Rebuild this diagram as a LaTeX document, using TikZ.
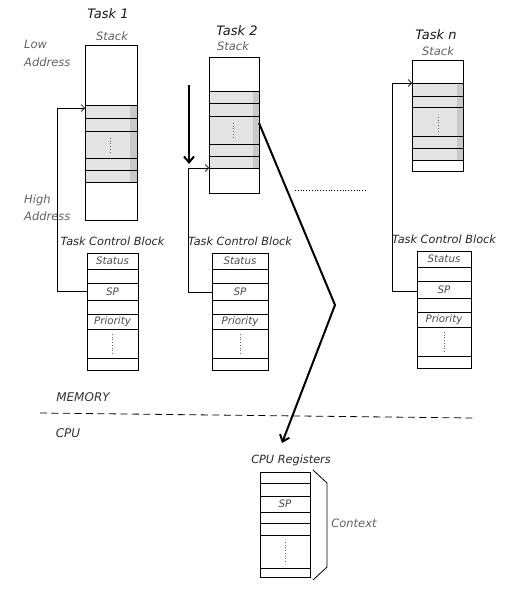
\documentclass[tikz,border=0pt]{standalone}
\usepackage{fontspec}
\setmainfont{DejaVu Sans}
\usetikzlibrary{arrows.meta}
\newcommand\TCBlock[4]{% name, left, top, width
  \node[box, anchor=north west, minimum width=#4pt, minimum height=117pt] (#1) at (#2,#3) {};
  \foreach \o in {16,30,47,61,76,105} \draw[rowline] (#2,#3+\o) -- ++(#4,0);
  \node[cell] at (#2+#4/2,#3+8) {Status};
  \node[cell] at (#2+#4/2,#3+38.5) {SP};
  \node[cell] at (#2+#4/2,#3+68.5) {Priority};
  \draw[vdots] (#2+#4/2,#3+81) -- (#2+#4/2,#3+101);
  \node[lbl] at (#2+#4/2,#3-12) {Task Control Block};
}
\begin{document}
\begin{tikzpicture}[x=1pt,y=-1pt,
 box/.style={draw, line width=1pt, inner sep=0pt, outer sep=0pt},
 rowline/.style={line width=1pt},
 lbl/.style={font=\itshape\fontsize{11.3}{13}\selectfont, text=black!85, inner sep=0pt},
 tlbl/.style={font=\itshape\fontsize{13}{15}\selectfont, text=black!90, inner sep=0pt},
 sub/.style={font=\itshape\fontsize{11.5}{13}\selectfont, text=black!62, inner sep=0pt},
 cell/.style={font=\itshape\fontsize{10.3}{12}\selectfont, text=black!70, inner sep=0pt},
 caps/.style={font=\itshape\fontsize{12}{14}\selectfont, text=black!80, inner sep=0pt},
 ptr/.style={line width=0.7pt, -{Straight Barb[length=3.5pt,width=7pt]}},
 bigarrow/.style={line width=2pt, -{Straight Barb[length=6pt,width=10pt]}},
 vdots/.style={dotted, line width=0.7pt, black!60}
]
\useasboundingbox (0,0) rectangle (512,589);

% ---------- Task 1 ----------
\fill[gray!22] (85,105) rectangle (137,182);
\fill[gray!42] (130,105) rectangle (137,182);
\node[box, anchor=north west, minimum width=52pt, minimum height=175pt] (s1) at (85,45) {};
\foreach \y in {105,118,131,158,170,182} \draw[rowline] (85,\y) -- (137,\y);
\draw[vdots] (110,138) -- (110,154);
\node[tlbl] (t1) at (108,14) {Task 1};
\node[sub] (st1) at (112,36) {Stack};
\node[sub, anchor=west] (low1) at (24,44) {Low};
\node[sub, anchor=west] (low2) at (24,62) {Address};
\node[sub, anchor=west] (high1) at (24,200) {High};
\node[sub, anchor=west] (high2) at (24,216) {Address};
\TCBlock{b1}{87}{253}{51}
\coordinate (s1p) at (85,108);
\coordinate (b1p) at (87,291);
\draw[ptr] (b1p) -- (57,291) -- (57,108) -- (s1p);

% ---------- Task 2 ----------
\fill[gray!22] (209,91) rectangle (259,168);
\fill[gray!42] (253,91) rectangle (259,168);
\node[box, anchor=north west, minimum width=50pt, minimum height=136pt] (s2) at (209,57) {};
\foreach \y in {91,103,116,144,156,168} \draw[rowline] (209,\y) -- (259,\y);
\draw[vdots] (233,123) -- (233,139);
\node[tlbl] (t2) at (237,31) {Task 2};
\node[sub] (st2) at (233,46) {Stack};
\TCBlock{b2}{212}{253}{56}
\coordinate (s2p) at (209,168);
\coordinate (b2p) at (212,292);
\draw[ptr] (b2p) -- (188,292) -- (188,168) -- (s2p);
\coordinate (d1) at (189,85);
\coordinate (d2) at (189,164);
\draw[bigarrow] (d1) -- (d2);

% dotted gap
\coordinate (g1) at (295,190);
\coordinate (g2) at (366,190);
\draw[dotted, line width=0.8pt] (g1) -- (g2);

% ---------- Task n ----------
\fill[gray!22] (412,83) rectangle (463,160);
\fill[gray!42] (457,83) rectangle (463,160);
\node[box, anchor=north west, minimum width=51pt, minimum height=111pt] (sn) at (412,60) {};
\foreach \y in {83,96,107,136,148,160} \draw[rowline] (412,\y) -- (463,\y);
\draw[vdots] (438,117) -- (438,132);
\node[tlbl] (tn) at (436,35) {Task n};
\node[sub] (stn) at (438,51) {Stack};
\TCBlock{bn}{417}{251}{54}
\coordinate (snp) at (412,83);
\coordinate (bnp) at (417,291);
\draw[ptr] (bnp) -- (392,291) -- (392,83) -- (snp);

% ---------- memory / cpu ----------
\node[caps] (mem) at (83,397) {MEMORY};
\node[caps] (cpu) at (68,433) {CPU};
\coordinate (dl) at (40,413);
\coordinate (dr) at (473,418);
\draw[line width=0.8pt, dash pattern=on 7pt off 4.5pt] (dl) -- (dr);

% ---------- CPU registers ----------
\node[lbl] (cr) at (291,460) {CPU Registers};
\node[box, anchor=north west, minimum width=50pt, minimum height=105pt] (reg) at (260,472) {};
\foreach \o in {11,24,40,51,63,96} \draw[rowline] (260,472+\o) -- (310,472+\o);
\node[cell] at (285,504) {SP};
\draw[vdots] (285,542) -- (285,562);
\coordinate (k1) at (313,470);
\coordinate (k2) at (313,580);
\draw[line width=0.8pt] (k1) -- (327,483) -- (327,567) -- (k2);
\node[sub] (ctxl) at (354,523) {Context};

% ---------- context switch arrow ----------
\coordinate (ctx) at (259,123);
\coordinate (cpuin) at (282,443);
\draw[bigarrow] (ctx) -- (335,305) -- (cpuin);
\end{tikzpicture}
\end{document}
